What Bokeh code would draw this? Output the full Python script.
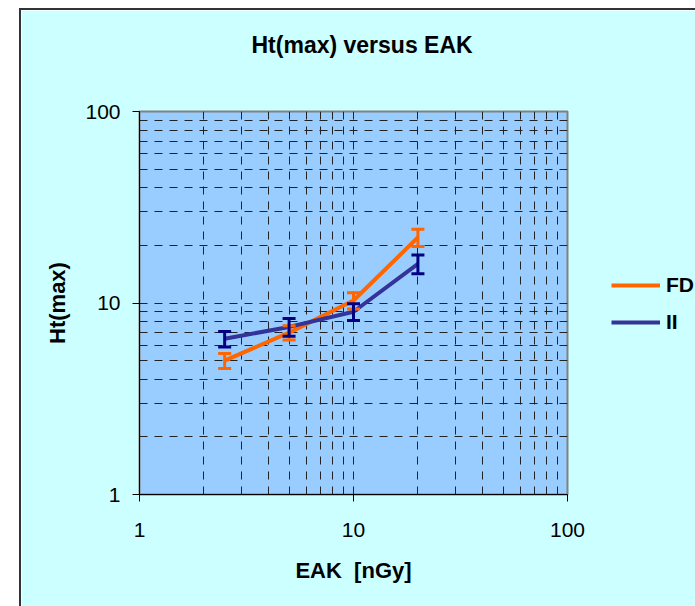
from bokeh.plotting import figure
from bokeh.models import (Whisker, TeeHead, ColumnDataSource, Legend, LegendItem,
                          FixedTicker, Range1d, BasicTickFormatter, LogAxis)
from bokeh.embed import file_html
from bokeh.resources import INLINE

# ---- data ----
eak = [2.5, 5, 10, 20]
fd = [5.0, 7.0, 10.3, 22.0]
fd_err = [0.45, 0.6, 1.0, 2.3]
ii = [6.5, 7.5, 9.0, 16.0]
ii_err = [0.6, 0.8, 0.9, 1.8]
x_ticks = [1, 10, 100]
y_ticks = [1, 10, 100]
minor_grid = [m * 10 ** e for e in (0, 1) for m in range(2, 10)]

FONT = "Liberation Sans"
FD_COLOR = "#FF6600"
II_COLOR = "#333399"
II_ERR = "#000080"

p = figure(frame_width=428, frame_height=383, x_axis_type="log", y_axis_type="log",
           x_range=Range1d(1, 100), y_range=Range1d(1, 100),
           output_backend="svg", toolbar_location=None,
           min_border_left=118, min_border_right=128,
           min_border_top=101, min_border_bottom=112,
           title="Ht(max) versus EAK")
p.margin = (8, 0, 0, 19)
p.styles = {"border-left": "2px solid #333333", "border-top": "2px solid #333333"}

p.border_fill_color = "#CCFFFF"
p.background_fill_color = "#99CCFF"
p.outline_line_color = "#808080"
p.outline_line_width = 2

xa = p.xaxis[0]
ya = p.yaxis[0]

p.title.text_font = FONT
p.title.text_font_size = "23px"
p.title.text_font_style = "bold"
p.title.text_color = "black"
p.title.align = "left"
p.title.vertical_align = "top"
p.title.offset = 112
p.title.standoff = 0

for ax, ticks in ((xa, x_ticks), (ya, y_ticks)):
    ax.ticker = FixedTicker(ticks=ticks, minor_ticks=minor_grid)
    ax.formatter = BasicTickFormatter()
    ax.major_label_text_font = FONT
    ax.major_label_text_font_size = "21px"
    ax.major_label_text_color = "black"
    ax.axis_label_text_font = FONT
    ax.axis_label_text_font_size = "22px"
    ax.axis_label_text_font_style = "bold"
    ax.axis_label_text_color = "black"
    ax.axis_line_color = "black"
    ax.major_tick_line_color = "black"
    ax.major_tick_out = 7
    ax.major_tick_in = 0
    ax.minor_tick_line_color = None

xa.axis_label = "EAK \u00a0[nGy]"
ya.axis_label = "Ht(max)"
xa.major_label_standoff = 21
ya.major_label_standoff = 12
xa.axis_label_standoff = 18
ya.axis_label_standoff = 12

for g in (p.xgrid[0], p.ygrid[0]):
    g.grid_line_color = "#222222"
    g.grid_line_dash = "8 7"
    g.grid_line_width = 1
    g.minor_grid_line_color = "#222222"
    g.minor_grid_line_dash = "8 7"
    g.minor_grid_line_width = 1

# invisible spacer axis between the frame and the title (no lines, empty label)
spacer = LogAxis(ticker=FixedTicker(ticks=[1], minor_ticks=[]), axis_line_color=None,
                 major_tick_line_color=None, minor_tick_line_color=None,
                 major_tick_out=52, major_tick_in=0, minor_tick_out=0,
                 major_label_standoff=0, major_label_overrides={1: ""})
p.add_layout(spacer, "above")

src_fd = ColumnDataSource(dict(x=eak, y=fd,
                               lo=[v - e for v, e in zip(fd, fd_err)],
                               hi=[v + e for v, e in zip(fd, fd_err)]))
src_ii = ColumnDataSource(dict(x=eak, y=ii,
                               lo=[v - e for v, e in zip(ii, ii_err)],
                               hi=[v + e for v, e in zip(ii, ii_err)]))

r_fd = p.line("x", "y", source=src_fd, line_color=FD_COLOR, line_width=4)
w_fd = Whisker(source=src_fd, base="x", upper="hi", lower="lo", dimension="height",
               line_color=FD_COLOR, line_width=3, level="overlay",
               upper_head=TeeHead(size=13, line_color=FD_COLOR, line_width=3),
               lower_head=TeeHead(size=13, line_color=FD_COLOR, line_width=3))
p.add_layout(w_fd)

r_ii = p.line("x", "y", source=src_ii, line_color=II_COLOR, line_width=4)
w_ii = Whisker(source=src_ii, base="x", upper="hi", lower="lo", dimension="height",
               line_color=II_ERR, line_width=3, level="overlay",
               upper_head=TeeHead(size=13, line_color=II_ERR, line_width=3),
               lower_head=TeeHead(size=13, line_color=II_ERR, line_width=3))
p.add_layout(w_ii)

legend = Legend(items=[LegendItem(label="FD", renderers=[r_fd]),
                       LegendItem(label="II", renderers=[r_ii])],
                location=(44, 160))
legend.label_text_font = FONT
legend.label_text_font_size = "21px"
legend.label_text_font_style = "bold"
legend.label_text_color = "black"
legend.glyph_width = 49
legend.glyph_height = 20
legend.label_height = 20
legend.label_standoff = 6
legend.spacing = 13
legend.padding = 0
legend.margin = 0
legend.border_line_alpha = 0
legend.background_fill_alpha = 0
p.add_layout(legend, "right")

open("out.html", "w").write(file_html(p, INLINE))
